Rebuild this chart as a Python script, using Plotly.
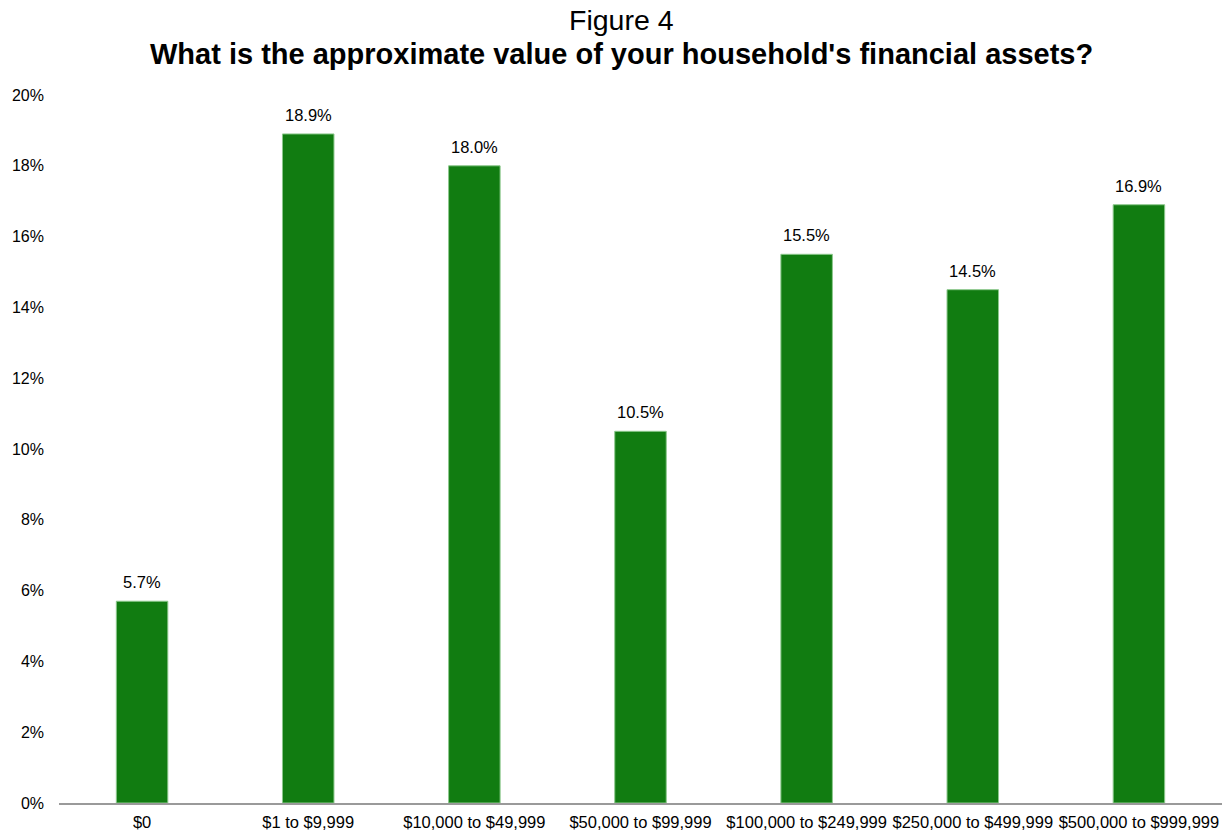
import plotly.graph_objects as go

categories = ["$0", "$1 to $9,999", "$10,000 to $49,999", "$50,000 to $99,999",
              "$100,000 to $249,999", "$250,000 to $499,999", "$500,000 to $999,999"]
shares = [5.7, 18.9, 18.0, 10.5, 15.5, 14.5, 16.9]
y_ticks = [0, 2, 4, 6, 8, 10, 12, 14, 16, 18, 20]

FONT = "Liberation Sans, Arial, sans-serif"
LEFT, RIGHT_EDGE = 59, 1222   # plot area horizontal span in pixels
TOP, PLOT_H = 95, 708         # plot area top edge and height in pixels
TITLE_CENTER = 621


def paper_y(px):
    """Convert a pixel row from the top of the page to paper coordinates."""
    return 1 + (TOP - px) / PLOT_H


def paper_x(px):
    return (px - LEFT) / (RIGHT_EDGE - LEFT)


fig = go.Figure(go.Bar(
    x=categories,
    y=shares,
    marker=dict(color="#117C11", line=dict(color="#8cc88c", width=1)),
    cliponaxis=False,
))

# value labels sitting above each bar
for cat, val in zip(categories, shares):
    fig.add_annotation(
        x=cat, y=val, text=f"{val:.1f}%", showarrow=False,
        xanchor="center", yanchor="bottom", yshift=8,
        font=dict(family=FONT, size=16.5, color="#000000"),
    )

fig.add_annotation(
    text="Figure 4", xref="paper", yref="paper", x=paper_x(TITLE_CENTER), y=paper_y(20),
    xanchor="center", yanchor="middle", showarrow=False,
    font=dict(family=FONT, size=28.5, color="#000000"),
)
fig.add_annotation(
    text="<b>What is the approximate value of your household's financial assets?</b>",
    xref="paper", yref="paper", x=paper_x(TITLE_CENTER), y=paper_y(54),
    xanchor="center", yanchor="middle", showarrow=False,
    font=dict(family=FONT, size=29, color="#000000"),
)

fig.update_layout(
    width=1226, height=830,
    margin=dict(l=LEFT, r=1226 - RIGHT_EDGE, t=TOP, b=830 - TOP - PLOT_H),
    paper_bgcolor="white", plot_bgcolor="white",
    bargap=0.69,
    showlegend=False,
    font=dict(family=FONT, size=16, color="#000000"),
    xaxis=dict(
        showgrid=False, showline=True, linecolor="#9a9a9a", linewidth=2,
        ticks="", tickfont=dict(family=FONT, size=16.5), ticklabelstandoff=3,
        automargin=False,
    ),
    yaxis=dict(
        range=[0, 20], tickvals=y_ticks, ticktext=[f"{t}%" for t in y_ticks],
        showgrid=False, zeroline=False, showline=False, ticks="",
        tickfont=dict(family=FONT, size=16), ticklabelstandoff=14,
        automargin=False,
    ),
)

fig.write_html("out.html")
